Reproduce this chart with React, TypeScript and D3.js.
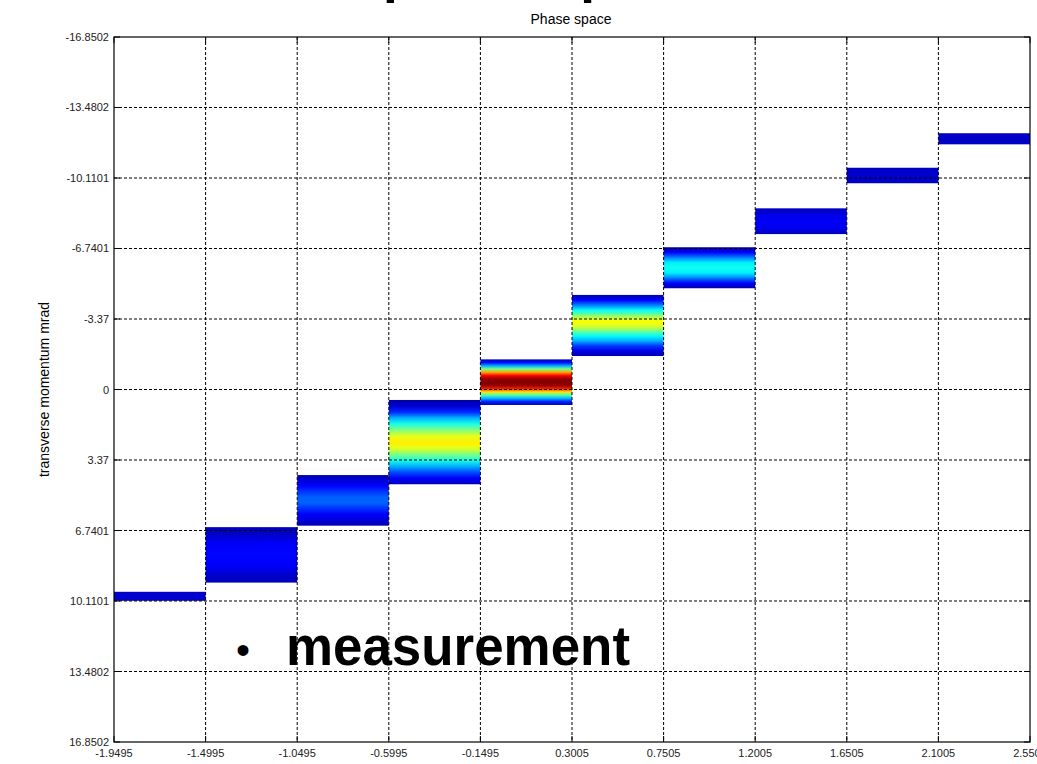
import React from "react";
import * as d3 from "d3";

const xTicks = [-1.9495, -1.4995, -1.0495, -0.5995, -0.1495, 0.3005, 0.7505, 1.2005, 1.6505, 2.1005, 2.5505];
const xTickLabels = ["-1.9495", "-1.4995", "-1.0495", "-0.5995", "-0.1495", "0.3005", "0.7505", "1.2005", "1.6505", "2.1005", "2.5505"];
const yTicks = [-16.8502, -13.4802, -10.1101, -6.7401, -3.37, 0, 3.37, 6.7401, 10.1101, 13.4802, 16.8502];
const yTickLabels = ["-16.8502", "-13.4802", "-10.1101", "-6.7401", "-3.37", "0", "3.37", "6.7401", "10.1101", "13.4802", "16.8502"];

// column extents in transverse momentum (mrad), top edge then bottom edge
const colTop = [9.67, 6.58, 4.09, 0.5, -1.44, -4.52, -6.8, -8.66, -10.6, -12.25];
const colBottom = [10.1, 9.23, 6.51, 4.53, 0.74, -1.6, -4.84, -7.43, -9.86, -11.72];
// intensity profiles (0..1) sampled from top to bottom in each column
const colIntensity = [
  [0.07, 0.08, 0.07],
  [0.06, 0.07, 0.11, 0.125, 0.13, 0.125, 0.11, 0.07, 0.06],
  [0.05, 0.09, 0.13, 0.18, 0.22, 0.22, 0.17, 0.12, 0.09, 0.05],
  [0.04, 0.08, 0.16, 0.3, 0.4, 0.5, 0.6, 0.64, 0.6, 0.5, 0.4, 0.3, 0.2, 0.12, 0.06],
  [0.05, 0.14, 0.3, 0.5, 0.72, 0.88, 0.98, 1.0, 0.98, 0.85, 0.65, 0.45, 0.3, 0.15, 0.06],
  [0.05, 0.12, 0.25, 0.38, 0.5, 0.62, 0.6, 0.5, 0.38, 0.3, 0.18, 0.1, 0.05],
  [0.05, 0.12, 0.25, 0.36, 0.39, 0.36, 0.25, 0.12, 0.05],
  [0.06, 0.1, 0.12, 0.11, 0.06],
  [0.06, 0.08, 0.07],
  [0.07, 0.07],
];

function jet(t: number): string {
  const c = (v: number) => Math.round(255 * Math.max(0, Math.min(1, v)));
  const r = 1.5 - Math.abs(4 * t - 3);
  const g = 1.5 - Math.abs(4 * t - 2);
  const b = 1.5 - Math.abs(4 * t - 1);
  return `rgb(${c(r)},${c(g)},${c(b)})`;
}

const W = 1037;
const H = 764;
const L = 114, R = 1030, T = 37, B = 742;

export default function App() {
  const x = d3.scaleLinear().domain([xTicks[0], xTicks[xTicks.length - 1]]).range([L, R]);
  const y = d3.scaleLinear().domain([-16.8502, 16.8502]).range([T, B]);
  const font = "'Liberation Sans', Arial, sans-serif";

  return (
    <svg width={W} height={H} style={{ position: "absolute", left: 0, top: 0, background: "#fff" }}>
      <defs>
        {colIntensity.map((prof, i) => (
          <linearGradient key={i} id={`g${i}`} x1="0" y1="0" x2="0" y2="1">
            {prof.map((v, j) => (
              <stop key={j} offset={prof.length === 1 ? 0 : j / (prof.length - 1)} stopColor={jet(v)} />
            ))}
          </linearGradient>
        ))}
      </defs>
      <rect x={0} y={0} width={W} height={H} fill="#fff" />
      {/* cut-off slide title */}
      <text x={383} y={-9} fontFamily={font} fontWeight="bold" fontSize={58} textLength={318} lengthAdjust="spacingAndGlyphs" fill="#000">
        phase space
      </text>
      <text x={571} y={24} textAnchor="middle" fontFamily={font} fontSize={14} fill="#000">
        Phase space
      </text>
      {/* columns */}
      {colTop.map((t, i) => (
        <rect
          key={i}
          x={x(xTicks[i])}
          y={y(t)}
          width={x(xTicks[i + 1]) - x(xTicks[i])}
          height={y(colBottom[i]) - y(t)}
          fill={`url(#g${i})`}
        />
      ))}
      {/* grid */}
      {xTicks.slice(1, -1).map((v, i) => (
        <line key={"gx" + i} x1={x(v)} x2={x(v)} y1={T} y2={B} stroke="#000" strokeWidth={1} strokeDasharray="3,2" />
      ))}
      {yTicks.slice(1, -1).map((v, i) => (
        <line key={"gy" + i} x1={L} x2={R} y1={y(v)} y2={y(v)} stroke="#000" strokeWidth={1} strokeDasharray="3,2" />
      ))}
      {/* frame */}
      <rect x={L} y={T} width={R - L} height={B - T} fill="none" stroke="#000" strokeWidth={1.2} />
      {/* ticks */}
      {yTicks.map((v, i) => (
        <g key={"ty" + i}>
          <line x1={L} x2={L + 6} y1={y(v)} y2={y(v)} stroke="#000" />
          <line x1={R} x2={R - 6} y1={y(v)} y2={y(v)} stroke="#000" />
          <text x={L - 5} y={y(v) + 4} textAnchor="end" fontFamily={font} fontSize={11} fill="#222">
            {yTickLabels[i]}
          </text>
        </g>
      ))}
      {xTicks.map((v, i) => (
        <g key={"tx" + i}>
          <line x1={x(v)} x2={x(v)} y1={B} y2={B - 6} stroke="#000" />
          <line x1={x(v)} x2={x(v)} y1={T} y2={T + 6} stroke="#000" />
          <text x={x(v)} y={B + 15} textAnchor="middle" fontFamily={font} fontSize={11} fill="#222">
            {xTickLabels[i]}
          </text>
        </g>
      ))}
      <text
        transform={`translate(49,${(T + B) / 2}) rotate(-90)`}
        textAnchor="middle"
        fontFamily={font}
        fontSize={14}
        fill="#000"
      >
        transverse momentum mrad
      </text>
      {/* overlaid slide text */}
      <text x={236} y={664} fontFamily={font} fontSize={40} fill="#000">•</text>
      <text x={286} y={665} fontFamily={font} fontWeight="bold" fontSize={56} textLength={344} lengthAdjust="spacingAndGlyphs" fill="#000">
        measurement
      </text>
    </svg>
  );
}
